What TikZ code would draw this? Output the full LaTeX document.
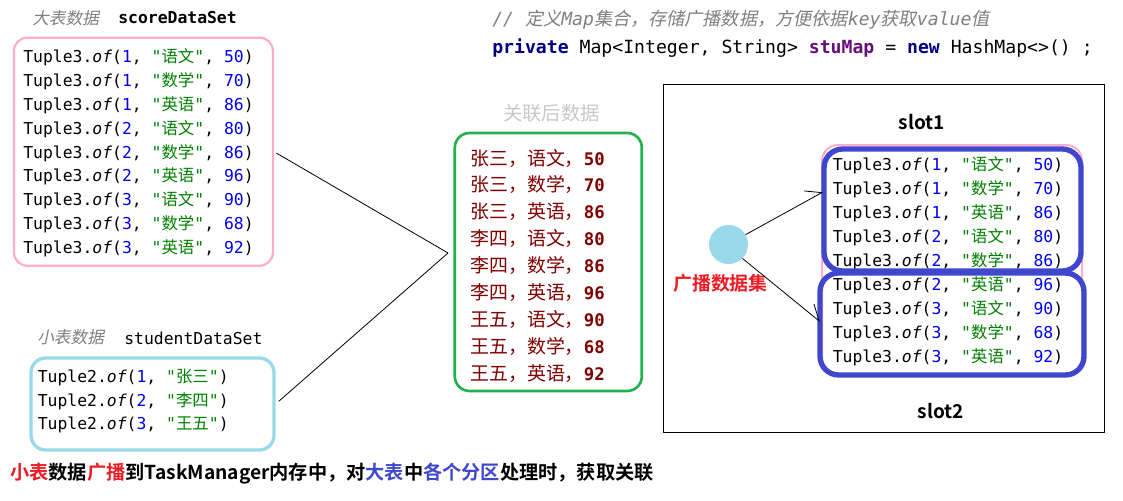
\documentclass[tikz,border=0pt]{standalone}
\usepackage{fontspec}
\usetikzlibrary{arrows.meta}
\newfontfamily\monof{DejaVu Sans Mono}[ItalicFont={DejaVu Sans Mono Oblique},BoldFont={DejaVu Sans Mono Bold},BoldItalicFont={DejaVu Sans Mono Bold Oblique}]
\newfontfamily\cjk{Noto Sans CJK SC}[BoldFont={Noto Sans CJK SC Bold}]
\newfontfamily\cjksl{Noto Sans CJK SC}[FakeSlant=0.2]
\definecolor{ppink}{RGB}{255,174,201}
\definecolor{lblue}{RGB}{153,217,234}
\definecolor{pgreen}{RGB}{34,177,76}
\definecolor{pblue}{RGB}{63,72,204}
\definecolor{pred}{RGB}{237,28,36}
\definecolor{numblue}{RGB}{0,0,240}
\definecolor{strgreen}{RGB}{0,128,0}
\definecolor{kwnavy}{RGB}{0,0,128}
\definecolor{fieldpurple}{RGB}{102,14,122}
\definecolor{cmtgray}{RGB}{128,128,128}
\definecolor{lbgray}{RGB}{200,200,200}
\definecolor{maroonc}{RGB}{128,0,0}
\newcommand\codefont{\monof\fontsize{12.3pt}{14pt}\selectfont}
\newcommand\tplA[3]{Tuple3.\textit{of}(\textcolor{numblue}{#1}, \textcolor{strgreen}{"{\cjk #2}"}, \textcolor{numblue}{#3})}
\newcommand\tplB[2]{Tuple2.\textit{of}(\textcolor{numblue}{#1}, \textcolor{strgreen}{"{\cjk #2}"})}
\newcommand\jrow[2]{\color{maroonc}{\cjk\fontsize{14.2pt}{16pt}\selectfont #1}{\monof\bfseries\fontsize{13pt}{15pt}\selectfont #2}}
\begin{document}
\begin{tikzpicture}[x=0.75pt,y=-0.75pt,
  code/.style={anchor=west, inner sep=0pt, font=\codefont},
  lbl/.style={anchor=west, inner sep=0pt, font=\cjksl\fontsize{12.5pt}{14pt}\selectfont, text=cmtgray},
  boxnode/.style={draw, inner sep=0pt},
  conn/.style={draw=black, line width=0.6pt}]
\useasboundingbox (0,0) rectangle (1123,500);

% ---- header code ----
\node[anchor=west, inner sep=0pt, text=cmtgray, font=\monof\itshape\fontsize{13.6pt}{16pt}\selectfont] (cmt) at (492,20)
  {// {\cjksl 定义}Map{\cjksl 集合，存储广播数据，方便依据}key{\cjksl 获取}value{\cjksl 值}};
\node[anchor=west, inner sep=0pt, font=\monof\fontsize{13.6pt}{16pt}\selectfont] (decl) at (492,48)
  {{\bfseries\color{kwnavy}private} Map<Integer, String> {\bfseries\color{fieldpurple}stuMap} = {\bfseries\color{kwnavy}new} HashMap<>() ;};

% ---- big table ----
\node[lbl] (bigl) at (32,18.5) {大表数据};
\node[code, font=\codefont\bfseries] (bign) at (118,17.5) {scoreDataSet};
\node[boxnode, draw=ppink, line width=1.7pt, rounded corners=10pt,
      minimum width=194.25pt, minimum height=171pt] (bigbox) at (143.4,151.7) {};
\foreach \a/\b/\c [count=\i from 0] in {1/语文/50,1/数学/70,1/英语/86,2/语文/80,2/数学/86,2/英语/96,3/语文/90,3/数学/68,3/英语/92}
  \node[code] (r\i) at (23,57.3+23.9*\i) {\tplA{\a}{\b}{\c}};

% ---- small table ----
\node[lbl] (smalll) at (37,336.7) {小表数据};
\node[code] (smalln) at (124,338) {studentDataSet};
\node[boxnode, draw=lblue, line width=2.5pt, rounded corners=11pt,
      minimum width=182.25pt, minimum height=69pt] (smallbox) at (152.5,404) {};
\node[code] (t0) at (37.5,377.3) {\tplB{1}{张三}};
\node[code] (t1) at (37.5,401) {\tplB{2}{李四}};
\node[code] (t2) at (37.5,425) {\tplB{3}{王五}};

% ---- joined result ----
\node[anchor=center, inner sep=0pt, text=lbgray, font=\cjk\fontsize{14.5pt}{16pt}\selectfont] (jl) at (551.5,113) {关联后数据};
\node[boxnode, draw=pgreen, line width=2pt, rounded corners=11pt,
      minimum width=140.25pt, minimum height=193.5pt] (jbox) at (548.3,262) {};
\foreach \n/\v [count=\i from 0] in {张三，语文，/50,张三，数学，/70,张三，英语，/86,李四，语文，/80,李四，数学，/86,李四，英语，/96,王五，语文，/90,王五，数学，/68,王五，英语，/92}
  \node[anchor=west, inner sep=0pt] (j\i) at (470,158+26.9*\i) {\jrow{\n}{\v}};

\coordinate (join) at (448,253);
\draw[conn, shorten <=2pt] (bigbox.east) -- (join);
\draw[conn, shorten <=3pt] (smallbox.east) -- (join);

% ---- broadcast panel ----
\node[boxnode, draw=black, line width=0.75pt, minimum width=330.75pt, minimum height=261pt] (frame) at (883.5,258) {};
\node[inner sep=0pt, font=\cjk\bfseries\fontsize{14.3pt}{16pt}\selectfont] (s1l) at (921.7,121.7) {slot1};
\node[inner sep=0pt, font=\cjk\bfseries\fontsize{14.3pt}{16pt}\selectfont] (s2l) at (941,410.7) {slot2};
\node[boxnode, draw=ppink, line width=1.5pt, rounded corners=12pt,
      minimum width=195pt, minimum height=171.75pt] (pbox) at (952,259.5) {};
\foreach \a/\b/\c [count=\i from 0] in {1/语文/50,1/数学/70,1/英语/86,2/语文/80,2/数学/86,2/英语/96,3/语文/90,3/数学/68,3/英语/92}
  \node[code] (s\i) at (832.5,165+24*\i) {\tplA{\a}{\b}{\c}};
\node[boxnode, draw=pblue, line width=4pt, rounded corners=14pt,
      minimum width=192.75pt, minimum height=91.5pt] (slot1) at (952.5,210) {};
\node[boxnode, draw=pblue, line width=4pt, rounded corners=14pt,
      minimum width=198pt, minimum height=76.5pt] (slot2) at (952,324) {};

\node[circle, fill=lblue, inner sep=0pt, minimum size=29.25pt] (bc) at (728.5,244.5) {};
\node[inner sep=0pt, text=pred, font=\cjk\bfseries\fontsize{14.2pt}{16pt}\selectfont] (bcl) at (720.5,283.3) {广播数据集};
\coordinate (a1) at (823,192);
\coordinate (a2) at (820,321.7);
\draw[conn, -{Straight Barb[harpoon, length=11pt, width=15pt]}] (bc.30) -- (a1);
\draw[conn, -{Straight Barb[harpoon, length=11pt, width=15pt]}] (bc.-45) -- (a2);

% ---- bottom text ----
\node[anchor=west, inner sep=0pt, font=\cjk\bfseries\fontsize{14.4pt}{17pt}\selectfont] (note) at (10,474)
  {\textcolor{pred}{小表}数据\textcolor{pred}{广播}到TaskManager内存中，对\textcolor{pblue}{大表}中\textcolor{pblue}{各个分区}处理时，获取关联};
\end{tikzpicture}
\end{document}
